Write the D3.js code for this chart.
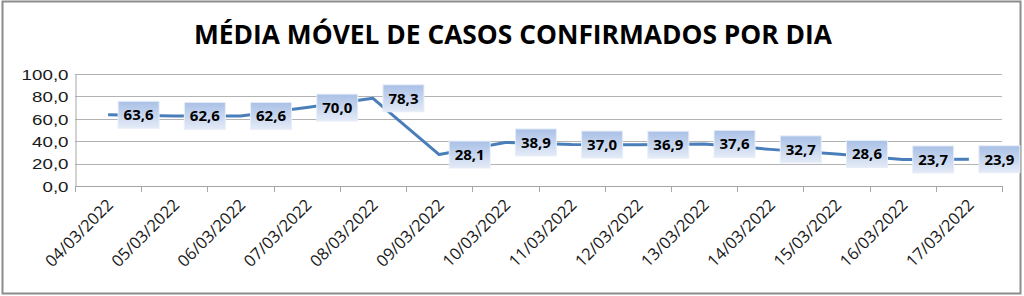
<!doctype html>
<html>
  <head>
    <meta charset="utf-8">
    <title>Média móvel de casos confirmados por dia</title>
    <style>
      body { margin: 0; background: #fff; }
      svg { display: block; font-family: "Open Sans", "Noto Sans", sans-serif; }
      .grid line { stroke: #b3b3b3; stroke-width: 1px; }
      .axis path, .axis line { stroke: #a6a6a6; }
      .axis text { fill: #1a1a1a; }
    </style>
  </head>
  <body>
  <script src="https://d3js.org/d3.v7.min.js" charset="utf-8"></script>
  <script>
    var dates = ["04/03/2022", "05/03/2022", "06/03/2022", "07/03/2022", "08/03/2022",
                 "09/03/2022", "10/03/2022", "11/03/2022", "12/03/2022", "13/03/2022",
                 "14/03/2022", "15/03/2022", "16/03/2022", "17/03/2022"];
    var media = [63.6, 62.6, 62.6, 70.0, 78.3, 28.1, 38.9, 37.0, 36.9, 37.6, 32.7, 28.6, 23.7, 23.9];
    var yTicks = [0, 20, 40, 60, 80, 100];

    var width = 1024, height = 296;
    var plot = { left: 75, right: 1002, top: 74, bottom: 186 };
    var fmt = function(d) { return d3.format(".1f")(d).replace(".", ","); };

    var svg = d3.select("body").append("svg")
      .attr("width", width)
      .attr("height", height);

    var defs = svg.append("defs");
    var grad = defs.append("linearGradient")
      .attr("id", "lblGrad")
      .attr("x1", 0).attr("y1", 0).attr("x2", 0).attr("y2", 1);
    grad.append("stop").attr("offset", "0%").attr("stop-color", "#a9c0e6");
    grad.append("stop").attr("offset", "100%").attr("stop-color", "#e4ebf7");

    // outer frame
    svg.append("rect")
      .attr("x", 2.5).attr("y", 1.5)
      .attr("width", 1018).attr("height", 292)
      .attr("fill", "#fff")
      .attr("stroke", "#8c8c8c")
      .attr("stroke-width", 2);

    svg.append("text")
      .attr("x", 513)
      .attr("y", 44)
      .attr("text-anchor", "middle")
      .attr("font-size", 27)
      .attr("font-weight", "bold")
      .attr("textLength", 638)
      .attr("lengthAdjust", "spacingAndGlyphs")
      .attr("fill", "#000")
      .text("MÉDIA MÓVEL DE CASOS CONFIRMADOS POR DIA");

    var x = d3.scaleBand()
      .domain(dates)
      .range([plot.left, plot.right]);

    var y = d3.scaleLinear()
      .domain([0, 100])
      .range([plot.bottom, plot.top]);

    // gridlines
    svg.append("g")
      .attr("class", "grid")
      .selectAll("line")
      .data(yTicks.slice(1))
      .join("line")
      .attr("x1", plot.left).attr("x2", plot.right)
      .attr("y1", function(d) { return Math.round(y(d)) + 0.5; })
      .attr("y2", function(d) { return Math.round(y(d)) + 0.5; });

    // y axis
    var yAxis = svg.append("g")
      .attr("class", "axis")
      .attr("transform", "translate(" + (plot.left + 0.5) + ",0.5)")
      .call(d3.axisLeft(y)
        .tickValues(yTicks)
        .tickSize(0)
        .tickPadding(7)
        .tickFormat(fmt));
    // stretched look of the original: widen the tick labels
    yAxis.selectAll(".tick text")
      .attr("font-size", 15)
      .attr("fill", "#262626")
      .attr("transform", "scale(1.25,1)")
      .attr("x", -7 / 1.25);

    // x axis line and ticks at band boundaries
    var xg = svg.append("g").attr("class", "axis");
    xg.append("line")
      .attr("x1", plot.left).attr("x2", plot.right)
      .attr("y1", plot.bottom + 0.5).attr("y2", plot.bottom + 0.5);
    var bounds = dates.map(function(d) { return x(d); }).concat([x(dates[dates.length - 1]) + x.bandwidth()]);
    xg.selectAll(".tk")
      .data(bounds)
      .join("line")
      .attr("class", "tk")
      .attr("x1", function(d) { return Math.round(d) + 0.5; })
      .attr("x2", function(d) { return Math.round(d) + 0.5; })
      .attr("y1", plot.bottom)
      .attr("y2", plot.bottom + 6);

    xg.selectAll(".xl")
      .data(dates)
      .join("text")
      .attr("class", "xl")
      .attr("text-anchor", "end")
      .attr("font-size", 16.5)
      .attr("transform", function(d) {
        return "translate(" + (x(d) + x.bandwidth() / 2 + 6) + "," + (plot.bottom + 20) + ") rotate(-45)";
      })
      .text(function(d) { return d; });

    // line
    var line = d3.line()
      .x(function(d, i) { return x(dates[i]) + x.bandwidth() / 2; })
      .y(function(d) { return y(d); });

    svg.append("path")
      .datum(media)
      .attr("fill", "none")
      .attr("stroke", "#4a7ebb")
      .attr("stroke-width", 3)
      .attr("stroke-linejoin", "round")
      .attr("d", line);

    // data labels
    var lbl = svg.append("g")
      .selectAll("g")
      .data(media)
      .join("g")
      .attr("transform", function(d, i) {
        return "translate(" + (x(dates[i]) + x.bandwidth() / 2 + 10) + "," + y(d) + ")";
      });

    lbl.append("rect")
      .attr("x", 0).attr("y", -13.5)
      .attr("width", 41).attr("height", 27)
      .attr("fill", "url(#lblGrad)")
      .attr("stroke", "#e8eef8")
      .attr("stroke-width", 1);

    lbl.append("text")
      .attr("x", 20.5)
      .attr("y", 5.5)
      .attr("text-anchor", "middle")
      .attr("font-size", 15)
      .attr("font-weight", "bold")
      .attr("fill", "#000")
      .text(fmt);
  </script>
  </body>
</html>
